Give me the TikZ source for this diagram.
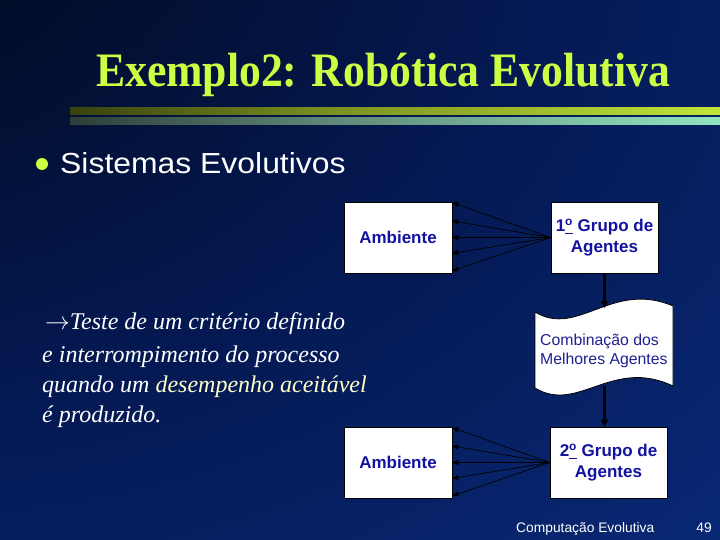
\documentclass[tikz,border=0pt]{standalone}
\usepackage{fontspec}
\setmainfont{Liberation Serif}
\setsansfont{Liberation Sans}
\usetikzlibrary{arrows.meta,calc}

\definecolor{titlegreen}{HTML}{CCFF44}
\definecolor{paleyellow}{HTML}{FFFFC8}
\definecolor{boxnavy}{HTML}{1212A0}
\definecolor{combnavy}{HTML}{202090}
\definecolor{bgA}{HTML}{010818}
\definecolor{bgB}{HTML}{041850}
\definecolor{bgC}{HTML}{092A7A}
\definecolor{bgD}{HTML}{0B3292}
\definecolor{bgE}{HTML}{0D3CAA}
\definecolor{barAmid}{HTML}{7A9020}
\definecolor{barA}{HTML}{CCF43C}
\definecolor{barBmid}{HTML}{608878}
\definecolor{barB}{HTML}{99F4CC}

\pgfdeclareradialshading{bgshade}{\pgfpoint{-50bp}{50bp}}{%
  color(0bp)=(black); color(14bp)=(bgA); color(45bp)=(bgB);
  color(75bp)=(bgC); color(100bp)=(bgD); color(145bp)=(bgE)}
\pgfdeclarehorizontalshading{barone}{100bp}{%
  color(0bp)=(black); color(8bp)=(black); color(45bp)=(barAmid);
  color(80bp)=(barA); color(100bp)=(barA)}
\pgfdeclarehorizontalshading{bartwo}{100bp}{%
  color(0bp)=(black); color(8bp)=(black); color(45bp)=(barBmid);
  color(80bp)=(barB); color(100bp)=(barB)}

\tikzset{
  box/.style={draw=black, line width=0.8bp, fill=white, inner sep=0pt,
    minimum height=71bp, align=center, text=boxnavy,
    font=\sffamily\bfseries\fontsize{17bp}{21bp}\selectfont},
  fan/.style={draw=black, line width=0.7bp, -{Triangle[length=6bp,width=5bp]}},
  flow/.style={draw=black, line width=2.4bp, -{Triangle[length=7bp,width=7bp]}},
  itext/.style={anchor=base west, inner sep=0pt, text=white,
    font=\itshape\fontsize{24bp}{27bp}\selectfont},
}

\begin{document}
\begin{tikzpicture}[x=1bp,y=-1bp]
\useasboundingbox (0,0) rectangle (720,540);
\shade[shading=bgshade] (0,0) rectangle (720,540);

% title and bars
\node[anchor=base, inner sep=0pt, text=titlegreen,
  font=\bfseries\fontsize{48bp}{52bp}\selectfont] (title) at (383,87)
  {\scalebox{0.91}[1]{Exemplo2: Robótica Evolutiva}};
\shade[shading=barone] (70,108) rectangle (720,115);
\shade[shading=bartwo] (70,117.5) rectangle (720,125);

% bullet
\fill[titlegreen] (42,164) circle (6);
\node[anchor=base west, inner sep=0pt, text=white,
  font=\sffamily\fontsize{29bp}{31bp}\selectfont] (sis) at (60,174)
  {\scalebox{1.1}[1]{Sistemas Evolutivos}};

% boxes
\node[box, minimum width=108bp] (amb1) at (398,237.5) {Ambiente};
\node[box, minimum width=107bp] (grp1) at (604.5,237.5) {1\underline{\textsuperscript{o}} Grupo de\\Agentes};
\node[box, minimum width=108bp] (amb2) at (398,462.5) {\raisebox{-3bp}{Ambiente}};
\node[box, minimum width=117bp] (grp2) at (608.5,462.5) {2\underline{\textsuperscript{o}} Grupo de\\Agentes};

% wave shape
\draw[fill=white, line width=0.8bp]
  (535,312) .. controls (578,338) and (612,280) .. (673,306)
  -- (673,386) .. controls (612,357) and (578,414) .. (535,388) -- cycle;
\node[anchor=west, align=left, inner sep=0pt, text=combnavy,
  font=\sffamily\fontsize{15.8bp}{18.5bp}\selectfont] (comb) at (540,351)
  {Combinação dos\\Melhores Agentes};
\coordinate (wtop) at (604.5,308);
\coordinate (wbot) at (604.5,386);

% connectors
\foreach \k in {0.015,0.27,0.5,0.72,0.965}{
  \draw[fan] (grp1.west) -- ($(amb1.north east)!\k!(amb1.south east)$);
  \draw[fan] (grp2.west) -- ($(amb2.north east)!\k!(amb2.south east)$);
}
\draw[flow] (grp1.south) -- (wtop);
\draw[flow] (wbot) -- (wbot |- grp2.north);

% italic text
\node[itext] (t1) at (45,329) {$\rightarrow$Teste de um critério definido};
\node[itext] (t2) at (42,362) {e interrompimento do processo};
\node[itext] (t3) at (42,392) {quando um \textcolor{paleyellow}{desempenho aceitável}};
\node[itext] (t4) at (42,422) {é produzido.};

% footer
\node[anchor=base west, inner sep=0pt, text=white,
  font=\sffamily\fontsize{13.8bp}{15bp}\selectfont] (foot) at (516,532) {Computação Evolutiva};
\node[anchor=base east, inner sep=0pt, text=white,
  font=\sffamily\fontsize{13.8bp}{15bp}\selectfont] (page) at (712,532) {49};
\end{tikzpicture}
\end{document}
